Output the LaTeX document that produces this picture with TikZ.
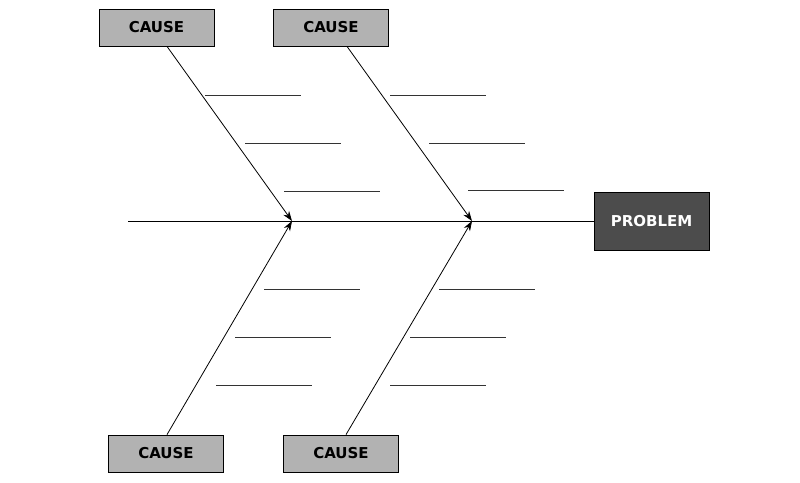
\documentclass[tikz,border=0pt]{standalone}
\usepackage{fontspec}
\setmainfont{DejaVu Sans}
\usetikzlibrary{arrows.meta}
\begin{document}
\begin{tikzpicture}[x=1pt,y=-1pt,line width=0.8pt,
  cause/.style={draw,fill=gray!60,minimum width=115pt,minimum height=37pt,font=\bfseries\fontsize{15}{17}\selectfont},
  problem/.style={draw,fill=black!70,text=white,minimum width=115pt,minimum height=58pt,font=\bfseries\fontsize{15}{17}\selectfont}]
  \useasboundingbox (0,0) rectangle (800,482);
  \node[cause] (c1) at (156.5,27.5) {CAUSE};
  \node[cause] (c2) at (331,27.5) {CAUSE};
  \node[cause] (c3) at (166,453.5) {CAUSE};
  \node[cause] (c4) at (341,453.5) {CAUSE};
  \node[problem] (p) at (651.5,221) {PROBLEM};
  \coordinate (tail) at (128,221);
  \coordinate (h1) at (292,221);
  \coordinate (h2) at (472,221);
  \draw (tail)--(p.west);
  \draw[-{Stealth[length=10pt,width=7pt]}] (c1.south) ++(10.5,0) -- (h1);
  \draw[-{Stealth[length=10pt,width=7pt]}] (c2.south) ++(16,0) -- (h2);
  \draw[-{Stealth[length=10pt,width=7pt]}] (c3.north) ++(1,0) -- (h1);
  \draw[-{Stealth[length=10pt,width=7pt]}] (c4.north) ++(5,0) -- (h2);
  % blank lines for sub-causes
  \foreach \x/\y in {205/95,245/143,284/191,390/95,429/143,468/190,
                     264/289,235/337,216/385,439/289,410/337,390/385}
    \draw[black!80] (\x,\y)--++(96,0);
\end{tikzpicture}
\end{document}
